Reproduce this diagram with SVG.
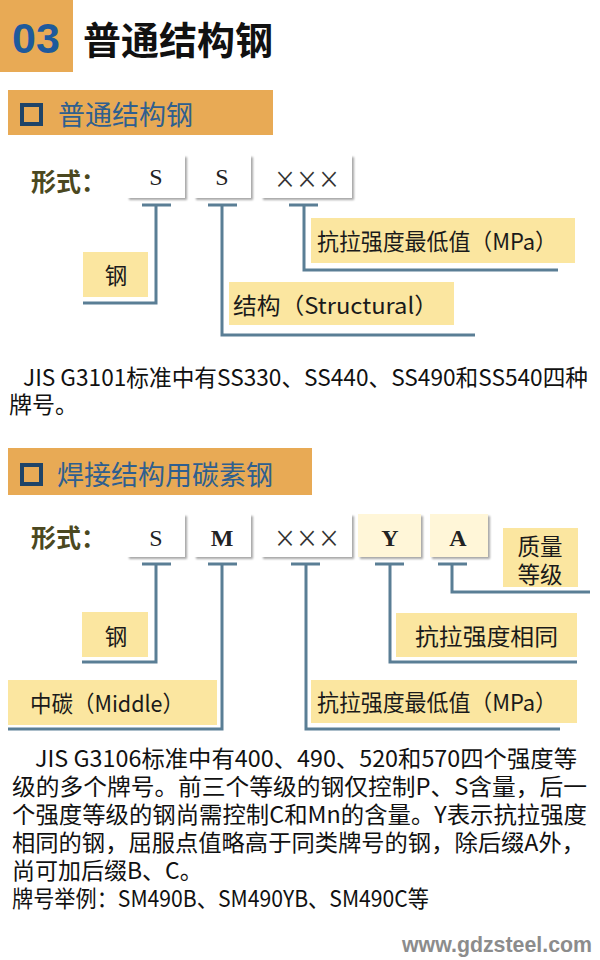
<svg xmlns="http://www.w3.org/2000/svg" width="600" height="960" viewBox="0 0 600 960">
<defs>
<filter id="sh" x="-10%" y="-10%" width="130%" height="140%">
<feGaussianBlur in="SourceAlpha" stdDeviation="1.2"/>
<feOffset dx="2" dy="2" result="b"/>
<feComponentTransfer><feFuncA type="linear" slope="0.35"/></feComponentTransfer>
<feMerge><feMergeNode/><feMergeNode in="SourceGraphic"/></feMerge>
</filter>
<style>
.cjk{font-family:"Noto Sans CJK SC","Noto Sans",sans-serif;}
.body{font-family:"Noto Sans CJK SC","Noto Sans",sans-serif;font-size:23px;fill:#111;}
.bar{fill:#E8AA55;}
.sq{fill:none;stroke:#1F4468;stroke-width:4;}
.sect{font-family:"Noto Sans CJK SC",sans-serif;font-size:27px;fill:#2F5F8F;}
.form{font-family:"Noto Sans CJK SC",sans-serif;font-size:25px;font-weight:bold;fill:#4B4820;}
.box{fill:#FFFFFF;filter:url(#sh);}
.boxy{fill:#FFF6D8;filter:url(#sh);}
.let{font-family:"Liberation Serif",serif;font-size:24px;fill:#222;text-anchor:middle;}
.xx{font-family:"Noto Sans CJK SC",sans-serif;font-size:24px;fill:#333;}
.lab{fill:#FBE6A0;}
.lt{font-family:"Noto Sans CJK SC",sans-serif;font-size:22.5px;fill:#1a1a1a;}
.con{fill:none;stroke:#5A7E95;stroke-width:3;}
</style>
</defs>
<rect width="600" height="960" fill="#FFFFFF"/>

<g id="header">
<rect x="0" y="0" width="73" height="72" class="bar"/>
<text x="12" y="53" font-family="Liberation Sans,Arial,sans-serif" font-size="43" font-weight="bold" fill="#1E5A9C">03</text>
<text x="83" y="54" class="cjk" font-size="38" font-weight="bold" fill="#111">普通结构钢</text>
</g>

<g id="section1-title">
<rect x="8" y="90" width="265" height="45" class="bar"/>
<rect x="22" y="105" width="19" height="19" class="sq"/>
<text x="58" y="125" class="sect">普通结构钢</text>
</g>

<g id="form1">
<text x="31" y="191" class="form">形式：</text>
<g id="n1-s"><rect x="127" y="155" width="58" height="43" class="box"/><text x="156" y="185" class="let">S</text></g>
<g id="n1-s2"><rect x="194" y="155" width="57" height="43" class="box"/><text x="222" y="185" class="let">S</text></g>
<g id="n1-x"><rect x="261" y="155" width="91" height="43" class="box"/><text x="274" y="188" class="xx" textLength="66" lengthAdjust="spacingAndGlyphs">×××</text></g>
<g id="n1-gang"><rect x="83" y="252" width="65" height="45" class="lab"/><text x="116" y="284" class="lt" text-anchor="middle">钢</text></g>
<g id="n1-struct"><rect x="229" y="282" width="225" height="43" class="lab"/><text x="233" y="314" class="lt" textLength="205" lengthAdjust="spacingAndGlyphs">结构（Structural）</text></g>
<g id="n1-mpa"><rect x="311" y="218" width="264" height="45" class="lab"/><text x="317" y="250" class="lt" textLength="240" lengthAdjust="spacingAndGlyphs">抗拉强度最低值（MPa）</text></g>
</g>

<g id="connectors1">
<path class="con" d="M142 205H171M156 205V303H83"/>
<path class="con" d="M208 205H237M222 205V335H475"/>
<path class="con" d="M289 205H318M304 205V270H558"/>
</g>

<g id="para1">
<text x="23" y="386" class="body" textLength="565" lengthAdjust="spacingAndGlyphs">JIS G3101标准中有SS330、SS440、SS490和SS540四种</text>
<text x="9" y="413" class="body">牌号。</text>
</g>

<g id="section2-title">
<rect x="8" y="448" width="304" height="47" class="bar"/>
<rect x="22" y="465" width="19" height="19" class="sq"/>
<text x="57" y="485" class="sect">焊接结构用碳素钢</text>
</g>

<g id="form2">
<text x="31" y="547" class="form">形式：</text>
<g id="n2-s"><rect x="127" y="514" width="58" height="43" class="box"/><text x="156" y="546" class="let">S</text></g>
<g id="n2-m"><rect x="194" y="514" width="57" height="43" class="box"/><text x="222" y="546" class="let" font-weight="bold">M</text></g>
<g id="n2-x"><rect x="261" y="514" width="91" height="43" class="box"/><text x="274" y="547" class="xx" textLength="66" lengthAdjust="spacingAndGlyphs">×××</text></g>
<g id="n2-y"><rect x="358" y="514" width="63" height="43" class="boxy"/><text x="390" y="546" class="let" font-weight="bold">Y</text></g>
<g id="n2-a"><rect x="430" y="514" width="58" height="43" class="boxy"/><text x="458" y="546" class="let" font-weight="bold">A</text></g>
<g id="n2-grade"><rect x="503" y="528" width="75" height="59" class="lab"/><text x="540" y="555" class="lt" font-size="24" text-anchor="middle">质量</text><text x="540" y="583" class="lt" font-size="24" text-anchor="middle">等级</text></g>
<g id="n2-gang"><rect x="82" y="612" width="66" height="45" class="lab"/><text x="116" y="645" class="lt" text-anchor="middle">钢</text></g>
<g id="n2-same"><rect x="396" y="613" width="181" height="44" class="lab"/><text x="415" y="645" class="lt" font-size="24" textLength="143" lengthAdjust="spacingAndGlyphs">抗拉强度相同</text></g>
<g id="n2-mid"><rect x="8" y="680" width="209" height="45" class="lab"/><text x="30" y="712" class="lt" textLength="154" lengthAdjust="spacingAndGlyphs">中碳（Middle）</text></g>
<g id="n2-mpa"><rect x="311" y="680" width="266" height="43" class="lab"/><text x="317" y="711" class="lt" textLength="240" lengthAdjust="spacingAndGlyphs">抗拉强度最低值（MPa）</text></g>
</g>

<g id="connectors2">
<path class="con" d="M142 564H171M156 564V662H82"/>
<path class="con" d="M208 564H237M222 564V729H8"/>
<path class="con" d="M291 564H320M306 564V729H560"/>
<path class="con" d="M375 564H404M390 564V662H577"/>
<path class="con" d="M438 564H467M452 564V592H590"/>
</g>

<g id="para2">
<text x="35" y="767" class="body" textLength="542" lengthAdjust="spacingAndGlyphs">JIS G3106标准中有400、490、520和570四个强度等</text>
<text x="12" y="795" class="body" textLength="575" lengthAdjust="spacingAndGlyphs">级的多个牌号。前三个等级的钢仅控制P、S含量，后一</text>
<text x="12" y="823" class="body" textLength="575" lengthAdjust="spacingAndGlyphs">个强度等级的钢尚需控制C和Mn的含量。Y表示抗拉强度</text>
<text x="12" y="851" class="body" textLength="573" lengthAdjust="spacingAndGlyphs">相同的钢，屈服点值略高于同类牌号的钢，除后缀A外，</text>
<text x="12" y="879" class="body">尚可加后缀B、C。</text>
<text x="12" y="907" class="body" textLength="417" lengthAdjust="spacingAndGlyphs">牌号举例：SM490B、SM490YB、SM490C等</text>
</g>

<text x="402" y="952" font-family="Liberation Sans,Arial,sans-serif" font-size="22" font-weight="bold" fill="#8C8C8C" textLength="190" lengthAdjust="spacingAndGlyphs">www.gdzsteel.com</text>
</svg>
